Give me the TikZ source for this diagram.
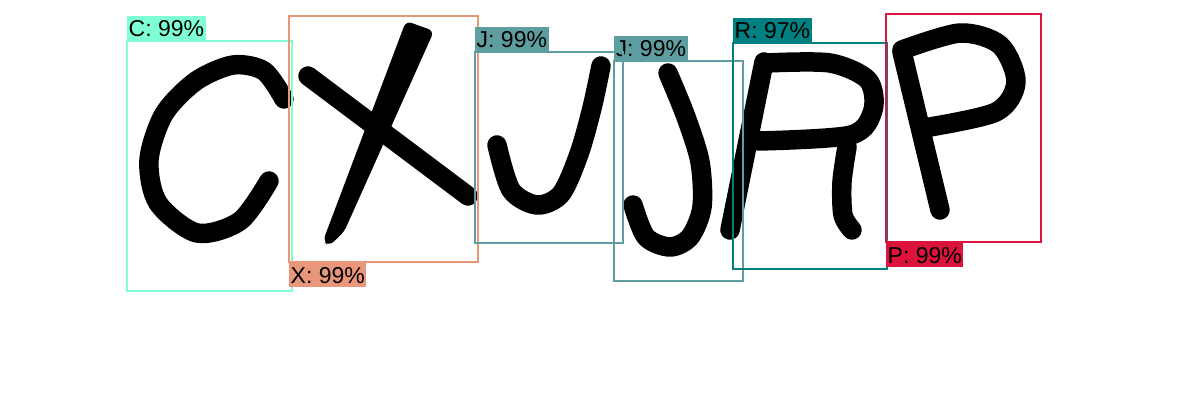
\documentclass[tikz,border=0pt]{standalone}
\usepackage{fontspec}
\setmainfont{Liberation Sans}
\usepackage{xcolor}
\usepackage{tikz}
\usetikzlibrary{positioning}
\definecolor{aquacolor}{RGB}{127,255,212}
\definecolor{salmoncolor}{RGB}{233,150,122}
\definecolor{cadetcolor}{RGB}{95,158,160}
\definecolor{tealcolor}{RGB}{0,128,128}
\definecolor{crimsoncolor}{RGB}{220,20,60}

\begin{document}
\begin{tikzpicture}[
  x=1pt, y=-1pt,
  letter/.style={draw=black, line width=19.5pt, line cap=round, line join=round},
  detbox/.style={rectangle, draw=#1, line width=2pt, inner sep=0pt, outer sep=0pt, anchor=north west},
  tag/.style={rectangle, fill=#1, text=black, inner xsep=1.5pt, inner ysep=1pt, text height=20pt, text depth=3pt, font=\fontsize{23}{25}\selectfont}
]
  \useasboundingbox (0,0) rectangle (1200,420);

  % Letters
  \draw[letter] plot[smooth] coordinates {(284,99) (264,71) (233,65) (196,81) (164,114) (149,160) (158,203) (197,233) (240,221) (269,181)};
  \fill[black, rounded corners=6pt] (406,21) -- (434,31) -- (344,232) -- (329,246) -- (323,241) -- cycle;
  \draw[letter] (308,76) -- (468,196);
  \draw[letter] plot[smooth] coordinates {(601,66) (592,108) (579,154) (561,194) (537,205) (511,190) (497,145)};
  \draw[letter] plot[smooth] coordinates {(668,73) (686,117) (700,162) (702,207) (690,237) (670,247) (646,237) (633,205)};
  \draw[letter] (764,62) -- (730,230);
  \draw[letter] plot[smooth] coordinates {(766,63) (830,63) (868,80) (873,110) (851,135) (758,141)};
  \draw[letter] plot[smooth] coordinates {(847,147) (842,182) (843,215) (852,230)};
  \draw[letter] (902,52) -- (940,210);
  \draw[letter] plot[smooth] coordinates {(902,50) (960,33) (1000,45) (1016,82) (996,112) (924,128)};

  % Boxes and tags
  \node[detbox=aquacolor, minimum width=165pt, minimum height=250pt] (boxC) at (127,41) {};
  \node[tag=aquacolor, anchor=south west] (tagC) at (boxC.north west) {C: 99\%};

  \node[detbox=salmoncolor, minimum width=189pt, minimum height=246pt] (boxX) at (289,16) {};
  \node[tag=salmoncolor, anchor=north west] (tagX) at (boxX.south west) {X: 99\%};

  \node[detbox=cadetcolor, minimum width=129pt, minimum height=220pt] (boxJb) at (614,61) {};
  \node[tag=cadetcolor, anchor=south west] (tagJb) at (boxJb.north west) {J: 99\%};

  \node[detbox=cadetcolor, minimum width=148pt, minimum height=191pt] (boxJa) at (475,52) {};
  \node[tag=cadetcolor, anchor=south west] (tagJa) at (boxJa.north west) {J: 99\%};

  \node[detbox=tealcolor, minimum width=154pt, minimum height=226pt] (boxR) at (733,43) {};
  \node[tag=tealcolor, anchor=south west] (tagR) at (boxR.north west) {R: 97\%};

  \node[detbox=crimsoncolor, minimum width=155pt, minimum height=228pt] (boxP) at (886,14) {};
  \node[tag=crimsoncolor, anchor=north west] (tagP) at (boxP.south west) {P: 99\%};

\end{tikzpicture}
\end{document}
